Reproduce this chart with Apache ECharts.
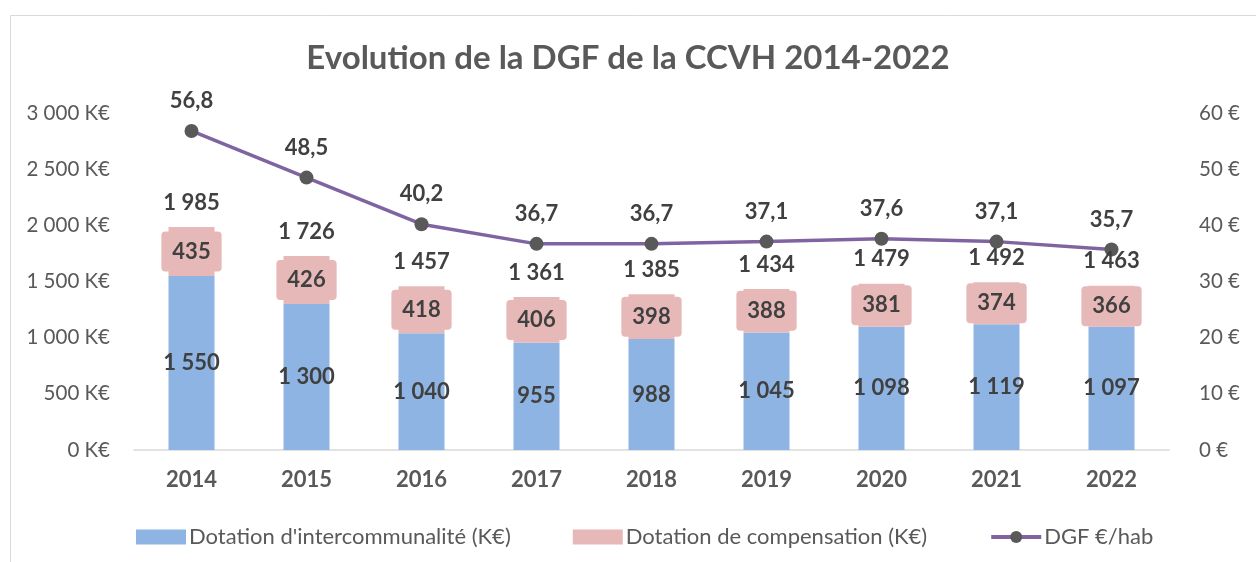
<!DOCTYPE html>
<html>
<head>
<meta charset="utf-8">
<script src="https://cdn.jsdelivr.net/npm/echarts@6/dist/echarts.min.js"></script>
<style>
  html, body { margin: 0; padding: 0; background: #fff; }
  #chart { width: 1256px; height: 562px; }
</style>
</head>
<body>
<div id="chart"></div>
<script>
const years = ['2014', '2015', '2016', '2017', '2018', '2019', '2020', '2021', '2022'];
const intercommunalite = [1550, 1300, 1040, 955, 988, 1045, 1098, 1119, 1097];
const compensation = [435, 426, 418, 406, 398, 388, 381, 374, 366];
const totals = [1985, 1726, 1457, 1361, 1385, 1434, 1479, 1492, 1463];
const dgfParHab = [56.8, 48.5, 40.2, 36.7, 36.7, 37.1, 37.6, 37.1, 35.7];

const FONT = 'Lato, "Open Sans", sans-serif';
const labelColor = '#404040';

// espace comme séparateur de milliers
function fmt(n) {
  return String(n).replace(/\B(?=(\d{3})+(?!\d))/g, ' ');
}

const chart = echarts.init(document.getElementById('chart'));

const option = {
  backgroundColor: '#fff',
  textStyle: { fontFamily: FONT },
  graphic: [{
    type: 'rect',
    shape: { x: 10.5, y: 15.5, width: 1300, height: 600 },
    style: { fill: 'none', stroke: '#d9d9d9', lineWidth: 1 },
    silent: true
  }],
  title: {
    text: 'Evolution de la DGF de la CCVH 2014-2022',
    left: 'center',
    top: 37,
    textStyle: { fontFamily: FONT, fontSize: 33, fontWeight: 'bold', color: '#595959' }
  },
  legend: {
    data: [
      { name: "Dotation d'intercommunalité (K€)", icon: 'rect' },
      { name: 'Dotation de compensation (K€)', icon: 'rect' },
      { name: 'DGF €/hab', lineStyle: { width: 4 } }
    ],
    left: 131,
    top: 521,
    itemWidth: 50,
    itemHeight: 15,
    itemGap: 62,
    textStyle: { fontFamily: FONT, fontSize: 22, color: '#595959', padding: [0, 0, 0, -2] }
  },
  grid: { left: 134, right: 87, top: 113, bottom: 112, containLabel: false },
  xAxis: {
    type: 'category',
    data: years,
    axisTick: { show: false },
    axisLine: { lineStyle: { color: '#d9d9d9', width: 1.5 } },
    axisLabel: { fontFamily: FONT, fontSize: 22, fontWeight: 'bold', color: '#595959', margin: 19 }
  },
  yAxis: [{
    type: 'value',
    min: 0, max: 3000, interval: 500,
    splitLine: { show: false },
    axisLabel: {
      fontFamily: FONT, fontSize: 20.5, color: '#595959', margin: 24,
      formatter: v => fmt(v) + ' K€'
    }
  }, {
    type: 'value',
    min: 0, max: 60, interval: 10,
    splitLine: { show: false },
    axisLabel: {
      fontFamily: FONT, fontSize: 20.5, color: '#595959', margin: 30,
      formatter: v => v + ' €'
    }
  }],
  series: [{
    name: "Dotation d'intercommunalité (K€)",
    type: 'bar',
    stack: 'dgf',
    barWidth: 46,
    itemStyle: { color: '#8EB4E3' },
    label: {
      show: true, position: 'inside',
      fontFamily: FONT, fontSize: 22, fontWeight: 'bold', color: labelColor,
      formatter: p => fmt(p.value)
    },
    data: intercommunalite
  }, {
    name: 'Dotation de compensation (K€)',
    type: 'bar',
    stack: 'dgf',
    itemStyle: { color: '#E6B9B8' },
    label: {
      show: true, position: 'inside',
      fontFamily: FONT, fontSize: 22, fontWeight: 'bold', color: labelColor,
      backgroundColor: '#E6B9B8', padding: [9, 11], borderRadius: 4,
      formatter: p => fmt(p.value)
    },
    data: compensation
  }, {
    name: 'Total',
    type: 'line',
    symbol: 'circle',
    symbolSize: 1,
    itemStyle: { color: 'rgba(0,0,0,0)' },
    lineStyle: { width: 0, opacity: 0 },
    silent: true,
    label: {
      show: true, position: 'top', distance: 13,
      fontFamily: FONT, fontSize: 22, fontWeight: 'bold', color: labelColor,
      formatter: p => fmt(p.value)
    },
    data: totals,
    z: 4
  }, {
    name: 'DGF €/hab',
    type: 'line',
    yAxisIndex: 1,
    symbol: 'circle',
    symbolSize: 14,
    lineStyle: { color: '#8064A2', width: 3.5 },
    itemStyle: { color: '#595959' },
    label: {
      show: true, position: 'top', distance: 12,
      fontFamily: FONT, fontSize: 22, fontWeight: 'bold', color: labelColor,
      formatter: p => p.value.toFixed(1).replace('.', ',')
    },
    data: dgfParHab,
    z: 3
  }]
};

chart.setOption(option);
</script>
</body>
</html>
